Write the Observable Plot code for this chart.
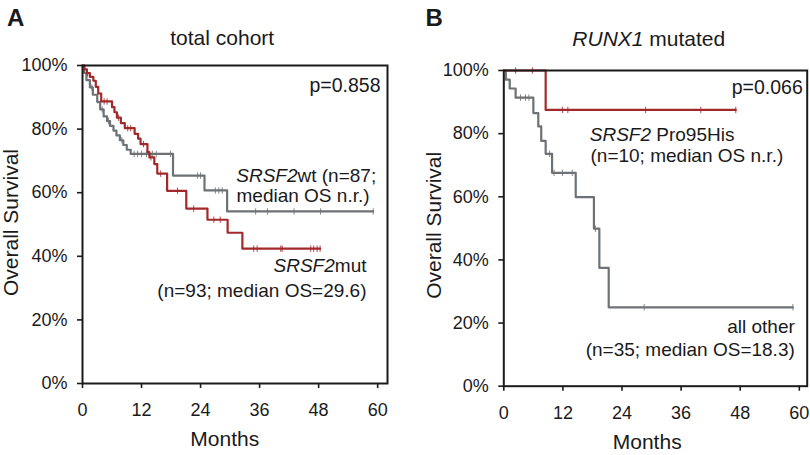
<!DOCTYPE html>
<html><head><meta charset="utf-8">
<script src="https://cdn.jsdelivr.net/npm/d3@7"></script>
<script src="https://cdn.jsdelivr.net/npm/@observablehq/plot@0.6"></script>
<style>
html,body{margin:0;padding:0;background:#fff;}
#wrap{display:flex;width:810px;height:455px;}
#wrap svg{display:block;overflow:visible;}
</style></head><body><div id="wrap"></div>
<script>
// ---------- data ----------
const monthTicks = [0, 12, 24, 36, 48, 60];
const survivalTicks = [0, 20, 40, 60, 80, 100];

// Panel A: total cohort  — Kaplan–Meier steps [month, survival %]
const wtSteps = [[0,100],[0.3,97.7],[0.8,95.4],[1.5,93.1],[2.1,90.8],[3.0,88.5],[3.6,86.2],[4.3,84.0],[5.0,82.5],[5.6,81.0],[6.3,79.5],[6.9,78.0],[7.6,76.5],[8.3,75.0],[9.0,73.5],[9.8,72.2],[18.4,65.4],[24.8,60.7],[29.4,54.1]];
const wtLastFollowUp = 59.1;
const wtCensored = [1.9,4.0,5.3,8.0,10.5,11.2,12.0,13.0,14.2,15.0,17.9,23.4,24.0,27.0,27.7,28.4,35.2,37.6,43.0,48.4,59.1];

const mutSteps = [[0,100],[0.4,98.8],[0.9,97.6],[1.5,96.4],[2.2,95.2],[2.7,93.3],[3.2,91.2],[3.8,88.7],[6.0,86.9],[6.5,85.3],[7.0,83.6],[7.8,81.9],[8.6,80.3],[10.6,78.5],[11.3,77.0],[11.8,75.3],[13.2,72.8],[13.6,71.1],[14.6,69.0],[15.2,66.0],[17.2,60.6],[21.1,55.0],[25.4,51.5],[29.5,47.4],[32.5,42.4]];
const mutLastFollowUp = 48.3;
const mutCensored = [1.0,4.4,5.0,7.3,9.2,9.8,12.4,13.9,15.9,19.3,22.6,26.7,28.0,34.8,35.5,40.3,40.6,46.4,47.0,47.7,48.3];

// Panel B: RUNX1 mutated
const proSteps = [[0,100],[8.5,87.5]];
const proLastFollowUp = 47.1;
const proCensored = [2.4,5.8,11.9,13.0,28.8,40.0,47.1];

const otherSteps = [[0,100],[0.4,97.1],[1.2,94.3],[2.4,91.4],[6.0,86.5],[7.0,82.3],[7.6,77.7],[8.5,73.6],[9.8,67.6],[14.6,59.9],[18.3,49.9],[19.4,37.5],[21.3,25.0]];
const otherLastFollowUp = 58.7;
const otherCensored = [3.4,4.4,5.1,9.3,10.2,11.9,13.9,18.6,28.5,58.7];

// ---------- helpers ----------
const RED = "#a2292b", GRAY = "#6c7276", INK = "#1a1a1a";
const FONT = "'Liberation Sans', Arial, Helvetica, sans-serif";
const curve = (steps, end) => [...steps.map(([t, s]) => ({t, s})), {t: end, s: steps[steps.length - 1][1]}];
const survAt = (steps, t) => { let s = steps[0][1]; for (const [tt, ss] of steps) if (tt <= t) s = ss; return s; };
const censor = (steps, times) => times.map(t => ({t, s: survAt(steps, t)}));
const tickSymbol = {draw(ctx, size) { const h = Math.sqrt(size / Math.PI); ctx.moveTo(0, -h); ctx.lineTo(0, h); }};

function km(steps, end, times, color) {
  return [
    Plot.line(curve(steps, end), {x: "t", y: "s", curve: "step-after", stroke: color, strokeWidth: 2.2}),
    Plot.dot(censor(steps, times), {x: "t", y: "s", symbol: tickSymbol, r: 3.2, stroke: color, strokeWidth: 1, fill: "none", strokeOpacity: 0.85})
  ];
}
const txt = (s, o) => Plot.text([s], {text: d => d, fill: INK, fontFamily: FONT, lineAnchor: "middle", ...o});

function panel({ml, mr, mt, mb, xmax, marks}) {
  return Plot.plot({
    width: 405, height: 455,
    marginLeft: ml, marginRight: mr, marginTop: mt, marginBottom: mb,
    x: {domain: [0, xmax]},
    y: {domain: [0, 100]},
    style: {fontFamily: FONT, fontSize: "18px", color: INK, background: "#fff", overflow: "visible"},
    marks: [
      ...marks,
      Plot.axisX(monthTicks, {tickSize: 5, tickPadding: 15, fontSize: 18, label: null, strokeWidth: 1.6}),
      Plot.axisY(survivalTicks, {tickSize: 5, tickPadding: 10, fontSize: 18, label: null, tickFormat: d => d + "%", strokeWidth: 1.6}),
      Plot.frame({stroke: INK, strokeWidth: 2})
    ]
  });
}

// ---------- Panel A ----------
const A = panel({
  ml: 82, mr: 18, mt: 65, mb: 72, xmax: 62,
  marks: [
    ...km(wtSteps, wtLastFollowUp, wtCensored, GRAY),
    ...km(mutSteps, mutLastFollowUp, mutCensored, RED),
    txt("A", {frameAnchor: "top-left", textAnchor: "start", lineAnchor: "top", dx: -75.5, dy: -56.5, fontSize: 24, fontWeight: "bold"}),
    txt("total cohort", {frameAnchor: "top", textAnchor: "middle", dx: -12.8, dy: -27, fontSize: 21}),
    txt("p=0.858", {frameAnchor: "top-right", textAnchor: "end", dx: -7, dy: 20, fontSize: 19.5}),
    txt("SRSF2", {frameAnchor: "top-left", textAnchor: "end", dx: 215, dy: 110, fontSize: 19, fontStyle: "italic"}),
    txt("wt (n=87;", {frameAnchor: "top-left", textAnchor: "start", dx: 215, dy: 110, fontSize: 19}),
    txt("median OS n.r.)", {frameAnchor: "top-left", textAnchor: "start", dx: 154, dy: 130, fontSize: 19}),
    txt("SRSF2", {frameAnchor: "top-right", textAnchor: "end", dx: -52.7, dy: 200.7, fontSize: 19, fontStyle: "italic"}),
    txt("mut", {frameAnchor: "top-right", textAnchor: "end", dx: -21, dy: 200.7, fontSize: 19}),
    txt("(n=93; median OS=29.6)", {frameAnchor: "top-right", textAnchor: "end", dx: -21, dy: 225, fontSize: 19}),
    txt("Months", {frameAnchor: "bottom", textAnchor: "middle", dx: -10.2, dy: 55.3, fontSize: 21}),
    txt("Overall Survival", {frameAnchor: "left", textAnchor: "middle", rotate: -90, dx: -71.2, dy: -2, fontSize: 21})
  ]
});

// ---------- Panel B ----------
const B = panel({
  ml: 98.3, mr: 3.3, mt: 70, mb: 69.3, xmax: 61.6,
  marks: [
    ...km(otherSteps, otherLastFollowUp, otherCensored, GRAY),
    ...km(proSteps, proLastFollowUp, proCensored, RED),
    txt("B", {frameAnchor: "top-left", textAnchor: "start", lineAnchor: "top", dx: -78.3, dy: -61.5, fontSize: 24, fontWeight: "bold"}),
    txt("RUNX1", {frameAnchor: "top", textAnchor: "end", dx: -12, dy: -31, fontSize: 21, fontStyle: "italic"}),
    txt("mutated", {frameAnchor: "top", textAnchor: "start", dx: -6.2, dy: -31, fontSize: 21}),
    txt("p=0.066", {frameAnchor: "top-right", textAnchor: "end", dx: -4.4, dy: 17.3, fontSize: 19.5}),
    txt("SRSF2", {frameAnchor: "top-left", textAnchor: "end", dx: 147.2, dy: 64, fontSize: 19, fontStyle: "italic"}),
    txt("Pro95His", {frameAnchor: "top-left", textAnchor: "start", dx: 152.5, dy: 64, fontSize: 19}),
    txt("(n=10; median OS n.r.)", {frameAnchor: "top-left", textAnchor: "start", dx: 86.7, dy: 85, fontSize: 19}),
    txt("all other", {frameAnchor: "top-right", textAnchor: "end", dx: -12.4, dy: 256.3, fontSize: 19}),
    txt("(n=35; median OS=18.3)", {frameAnchor: "top-right", textAnchor: "end", dx: -12.4, dy: 279, fontSize: 19}),
    txt("Months", {frameAnchor: "bottom", textAnchor: "middle", dx: -8.3, dy: 56, fontSize: 21}),
    txt("Overall Survival", {frameAnchor: "left", textAnchor: "middle", rotate: -90, dx: -70, dy: -3, fontSize: 21})
  ]
});

document.getElementById("wrap").append(A, B);
</script></body></html>
